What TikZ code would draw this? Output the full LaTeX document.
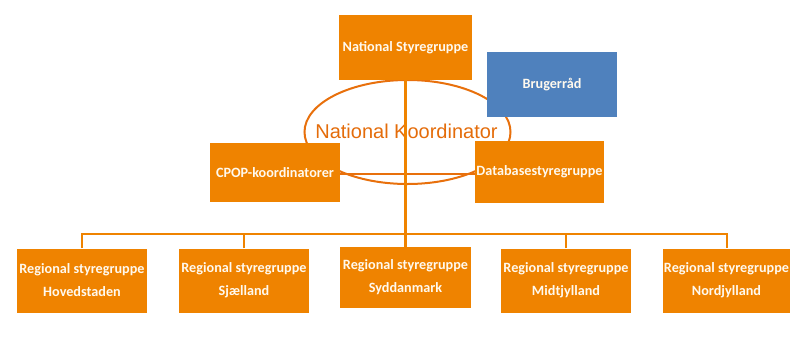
\documentclass[tikz,border=0pt]{standalone}
\usepackage{fontspec}
\setmainfont{Carlito}
\newfontfamily\koordfont{Liberation Sans}
\definecolor{boxorange}{RGB}{239,131,0}
\definecolor{lineorange}{RGB}{232,112,12}
\definecolor{koordorange}{RGB}{228,108,10}
\definecolor{raadblue}{RGB}{79,129,189}
\definecolor{boxtext}{RGB}{255,249,238}
\tikzset{
  unit/.style={fill=boxorange, text=boxtext, inner sep=0pt, align=center,
    font=\fontsize{14.2}{23}\selectfont\bfseries},
  raad/.style={unit, fill=raadblue},
  spine/.style={draw=boxorange, line width=3pt},
  busline/.style={draw=boxorange, line width=2pt},
  ring/.style={draw=lineorange, line width=2pt},
  link/.style={draw=lineorange, line width=1.5pt},
}
\begin{document}
\begin{tikzpicture}[x=1pt,y=-1pt]
\useasboundingbox (0,0) rectangle (790,338);
\coordinate (busy) at (0,234);

% coordinator ring and its label
\draw[ring] (407.5,132) ellipse [x radius=103, y radius=52];
\node[text=koordorange, font=\koordfont\fontsize{20}{24}\selectfont, anchor=base] (koord) at (406.5,138) {National Koordinator};

% national level
\node[unit, minimum width=133pt, minimum height=65pt] (ns) at (405.5,47.5) {National Styregruppe};
\node[unit, minimum width=130pt, minimum height=59pt] (cpop) at (275,172.5) {CPOP-koordinatorer};
\node[unit, minimum width=129pt, minimum height=62pt] (db) at (539.5,172) {Databasestyregruppe};
\draw[link] (cpop.east) ++(0,1.5) coordinate (cpopR) -- (cpopR -| db.west);

% regional level
\node[unit, minimum width=130pt, minimum height=64pt] (r1) at (82,280.5) {Regional styregruppe\\Hovedstaden};
\node[unit, minimum width=130pt, minimum height=64pt] (r2) at (244,280.5) {Regional styregruppe\\Sjælland};
\node[unit, minimum width=131pt, minimum height=61pt] (r3) at (405.5,277.5) {Regional styregruppe\\Syddanmark};
\node[unit, minimum width=130pt, minimum height=64pt] (r4) at (566,280.5) {Regional styregruppe\\Midtjylland};
\node[unit, minimum width=127pt, minimum height=64pt] (r5) at (726.5,280.5) {Regional styregruppe\\Nordjylland};

% connectors
\draw[busline] (r1.north) -- (r1.north |- busy) -- (r5.north |- busy) -- (r5.north);
\draw[busline] (r2.north) -- (r2.north |- busy);
\draw[busline] (r4.north) -- (r4.north |- busy);
\draw[spine] (ns.south) -- (r3.north);

% user council
\node[raad, minimum width=130pt, minimum height=65pt] (bru) at (552,84.5) {Brugerråd};
\end{tikzpicture}
\end{document}
